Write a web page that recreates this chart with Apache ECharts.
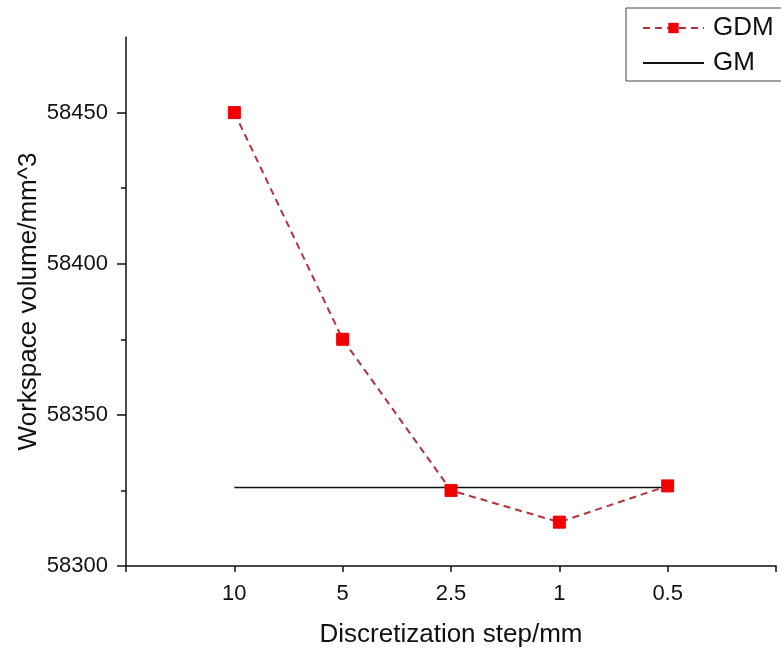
<!DOCTYPE html>
<html>
<head>
<meta charset="utf-8">
<script src="https://cdn.jsdelivr.net/npm/echarts@6/dist/echarts.min.js"></script>
<style>html,body{margin:0;padding:0;background:#fff;}#c{width:781px;height:652px;}</style>
</head>
<body>
<div id="c"></div>
<script>
var categories = ['10', '5', '2.5', '1', '0.5'];
var gdmValues = [58450, 58375, 58325, 58314.5, 58326.5];
var gmValues = [58326, 58326, 58326, 58326, 58326];
var yMajorTicks = [58300, 58350, 58400, 58450];
var yMinorTicks = [58325, 58375, 58425];

var font = '"Liberation Sans", Arial, sans-serif';
function pairs(vals) { return vals.map(function (v, i) { return [i + 1, v]; }); }

var chart = echarts.init(document.getElementById('c'), null, { renderer: 'canvas' });
chart.setOption({
  animation: false,
  backgroundColor: '#fff',
  grid: { left: 126, right: 5, top: 37, bottom: 86, containLabel: false, outerBoundsMode: 'none' },
  legend: {
    orient: 'vertical', left: 626, top: 8,
    padding: [7, 30, 5, 16], itemGap: 9,
    itemWidth: 61, itemHeight: 13,
    borderColor: '#444', borderWidth: 1, borderRadius: 0,
    textStyle: { fontFamily: font, fontSize: 26, color: '#111', padding: [0, 0, 0, 4] },
    data: ['GDM', { name: 'GM', itemStyle: { opacity: 0 } }]
  },
  xAxis: {
    type: 'value', min: 0, max: 6, interval: 1,
    name: 'Discretization step/mm', nameLocation: 'middle', nameGap: 56, nameMoveOverlap: false,
    nameTextStyle: { fontFamily: font, fontSize: 26, color: '#111' },
    axisLine: { lineStyle: { color: '#111', width: 1.5 } },
    axisTick: { show: true, length: 6, inside: false, lineStyle: { color: '#111', width: 1.5 } },
    axisLabel: {
      fontFamily: font, fontSize: 22, color: '#111', margin: 17,
      formatter: function (v) { return categories[v - 1] || ''; }
    },
    splitLine: { show: false }
  },
  yAxis: [{
    type: 'value', min: 58300, max: 58475,
    name: 'Workspace volume/mm^3', nameLocation: 'middle', nameGap: 84, nameRotate: 90, nameMoveOverlap: false,
    nameTextStyle: { fontFamily: font, fontSize: 26, color: '#111' },
    axisLine: { show: true, lineStyle: { color: '#111', width: 1.5 } },
    axisTick: { show: true, length: 9, customValues: yMajorTicks, lineStyle: { color: '#111', width: 1.5 } },
    axisLabel: {
      fontFamily: font, fontSize: 22, color: '#111', margin: 18, customValues: yMajorTicks,
      formatter: function (v) { return String(v); }
    },
    splitLine: { show: false }
  }, {
    type: 'value', min: 58300, max: 58475, position: 'left', offset: 0,
    axisLine: { show: false },
    axisTick: { show: true, length: 5, customValues: yMinorTicks, lineStyle: { color: '#111', width: 1.5 } },
    axisLabel: { show: false },
    splitLine: { show: false }
  }],
  series: [{
    name: 'GDM', type: 'line', yAxisIndex: 0,
    data: pairs(gdmValues),
    symbol: 'rect', symbolSize: 12,
    itemStyle: { color: '#f00000', borderColor: '#f00000' },
    lineStyle: { color: '#b5323c', width: 2, type: [7, 5] },
    z: 3
  }, {
    name: 'GM', type: 'line', yAxisIndex: 0,
    data: pairs(gmValues),
    symbol: 'none',
    itemStyle: { color: '#111' },
    lineStyle: { color: '#111', width: 1.5 },
    z: 2
  }]
});
</script>
</body>
</html>
